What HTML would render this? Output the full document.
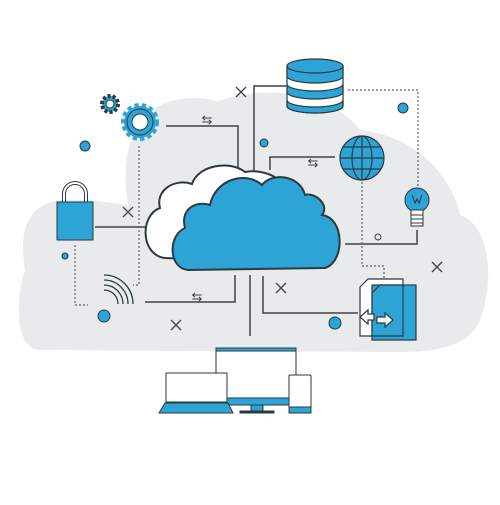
<!DOCTYPE html>
<html><head><style>html,body{margin:0;padding:0;background:#fff}</style></head><body>
<svg width="500" height="500" viewBox="0 0 500 500" xmlns="http://www.w3.org/2000/svg">
<g fill="#e8eaeb">
<path d="M40,350 C15,350 15,300 25,270 C20,240 22,205 60,200 C90,198 120,205 128,205 C120,160 130,110 175,100 C215,92 250,110 265,140 C290,125 330,125 360,130 C410,135 450,170 460,215 C490,225 495,280 480,320 C470,345 440,352 400,352 Z"/>
<path d="M200,110 C250,80 330,90 360,130 L300,160 Z"/>
</g>
<g fill="none" stroke="#3a444a" stroke-width="1.5">
<polyline points="166,126 238,126 238,170"/>
<polyline points="286,86 254,86 254,172"/>
<polyline points="335,157 270,157 270,170"/>
<polyline points="95,227 145,227"/>
<polyline points="145,302 235,302 235,275"/>
<line x1="250" y1="275" x2="250" y2="336"/>
<polyline points="263,276 263,313 358,313"/>
<polyline points="345,244 417,244 417,230"/>
</g>
<g fill="none" stroke="#5a646a" stroke-width="1.2" stroke-dasharray="2,2">
<polyline points="348,90 418,90 418,190"/>
<polyline points="362,182 362,266 384,266 384,278"/>
<polyline points="75,245 75,305 88,305"/>
<polyline points="139,146 139,285 133,285"/>
</g>
<g stroke="#3a444a" stroke-width="1.3">
<path d="M236,87l10,10M246,87l-10,10M123,207l10,10M133,207l-10,10M276,283l10,10M286,283l-10,10M171,320l10,10M181,320l-10,10M432,262l10,10M442,262l-10,10"/>
</g>
<g font-family="Liberation Sans,sans-serif" font-size="13" fill="#3a444a" text-anchor="middle">
<text x="207" y="124">⇆</text><text x="313" y="167">⇆</text><text x="197" y="301">⇆</text>
</g>
<g fill="#2ea3d5" stroke="#2b3a42" stroke-width="1">
<circle cx="85" cy="146" r="5"/><circle cx="264" cy="143" r="4"/><circle cx="403" cy="108" r="5"/>
<circle cx="65" cy="256" r="3"/><circle cx="104" cy="316" r="6"/><circle cx="335" cy="323" r="6"/>
</g>
<circle cx="378" cy="237" r="3" fill="none" stroke="#3a444a"/>
<!-- gears -->
<g fill="#2ea3d5" stroke="#2b3a42" stroke-width="1">
<circle cx="110" cy="104" r="8" stroke-dasharray="3,2" stroke-width="4"/>
<circle cx="110" cy="104" r="4" fill="#fff"/>
<circle cx="140" cy="122" r="16" stroke="#2ea3d5" stroke-width="6" stroke-dasharray="4,3"/>
<circle cx="140" cy="122" r="13"/>
<circle cx="140" cy="122" r="8" fill="#fff"/>
</g>
<!-- lock -->
<path d="M64,202 v-8 a11,11 0 0 1 22,0 v8" fill="none" stroke="#2b3a42" stroke-width="4"/>
<path d="M64,202 v-8 a11,11 0 0 1 22,0 v8" fill="none" stroke="#fff" stroke-width="2"/>
<rect x="57" y="202" width="36" height="38" fill="#2ea3d5" stroke="#2b3a42"/>
<!-- wifi -->
<g fill="none" stroke="#2b3a42" stroke-width="1.3">
<path d="M104,290 a14,14 0 0 1 14,14"/><path d="M104,285 a19,19 0 0 1 19,19"/><path d="M104,280 a24,24 0 0 1 24,24"/><path d="M104,275 a29,29 0 0 1 29,29"/>
</g>
<!-- database -->
<g stroke="#2b3a42" stroke-width="1.2">
<path d="M287,66 v40 a28,7 0 0 0 56,0 v-40 Z" fill="#fff"/>
<path d="M287,66 v10 a28,7 0 0 0 56,0 v-10 Z" fill="#2ea3d5"/>
<path d="M287,84 v8 a28,7 0 0 0 56,0 v-8 a28,7 0 0 1 -56,0Z" fill="#2ea3d5"/>
<path d="M287,100 v6 a28,7 0 0 0 56,0 v-6 a28,7 0 0 1 -56,0Z" fill="#2ea3d5"/>
<ellipse cx="315" cy="66" rx="28" ry="7" fill="#2ea3d5"/>
</g>
<!-- globe -->
<g stroke="#2b3a42" stroke-width="1.2" fill="none">
<circle cx="362" cy="158" r="22" fill="#2ea3d5"/>
<ellipse cx="362" cy="158" rx="10" ry="22"/><line x1="362" y1="136" x2="362" y2="180"/>
<line x1="340" y1="158" x2="384" y2="158"/><path d="M343,147h38M343,169h38"/>
</g>
<!-- bulb -->
<g stroke="#2b3a42" stroke-width="1">
<circle cx="417" cy="200" r="12" fill="#2ea3d5"/>
<rect x="411" y="210" width="12" height="16" fill="#fff"/>
<path d="M411,215h12M411,219h12M411,223h12" fill="none"/>
<path d="M412,195l3,8l2,-4l2,4l3,-8" fill="none"/>
</g>
<!-- document -->
<g stroke="#2b3a42" stroke-width="1.2">
<path d="M360,287 l8,-8 h35 v57 h-43 Z" fill="#fff"/>
<rect x="372" y="285" width="44" height="55" fill="#2ea3d5"/>
<path d="M372,293 l8,-8 h23 v51 h-31 Z" fill="#2ea3d5"/>
<path d="M360,317 l8,-7 v4 h6 v6 h-6 v4 Z" fill="#fff"/>
<path d="M393,320 l-8,-7 v4 h-8 v6 h8 v4 Z" fill="#fff"/>
</g>
<!-- clouds -->
<path d="M165,258 C140,255 140,215 160,208 C155,190 175,178 192,184 C198,165 230,160 245,172 C255,170 275,172 282,185 L260,262 Z" fill="#fff" stroke="#2b3a42" stroke-width="2"/>
<path d="M188,270 C168,268 168,235 185,228 C180,210 195,200 210,205 C215,180 245,170 262,185 C272,172 300,175 305,195 C315,192 330,205 322,215 C345,218 345,262 325,268 Z" fill="#2ea3d5" stroke="#2b3a42" stroke-width="2"/>
<!-- devices -->
<g stroke="#2b3a42" stroke-width="1">
<rect x="216" y="348" width="80" height="56" fill="#fff"/>
<rect x="216" y="348" width="80" height="3" fill="#2ea3d5"/>
<rect x="226" y="398" width="70" height="7" fill="#2ea3d5"/>
<rect x="251" y="405" width="12" height="6" fill="#2ea3d5"/>
<rect x="240" y="411" width="34" height="2" fill="#2b3a42"/>
<rect x="166" y="373" width="61" height="29" fill="#fff"/>
<path d="M165,403 h63 l5,10 h-74 Z" fill="#2ea3d5"/>
<rect x="289" y="375" width="22" height="38" fill="#fff" rx="1"/>
<rect x="289" y="407" width="22" height="6" fill="#2ea3d5"/>
</g>
</svg>
</body></html>
